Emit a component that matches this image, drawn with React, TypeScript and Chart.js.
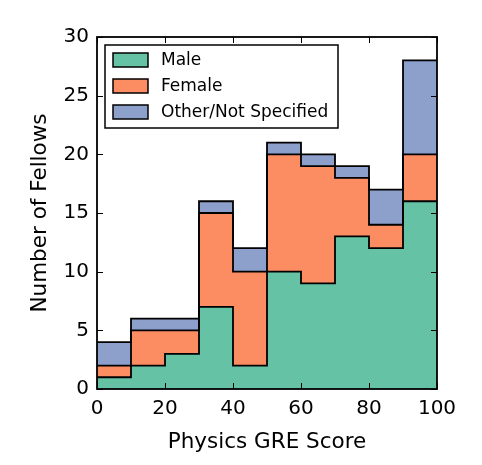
import React, { useEffect, useRef } from "react";
import { Chart, registerables } from "chart.js";

Chart.register(...registerables);

const binStarts = [0, 10, 20, 30, 40, 50, 60, 70, 80, 90];
const binEnd = 100;
const male = [1, 2, 3, 7, 2, 10, 9, 13, 12, 16];
const female = [1, 3, 2, 8, 8, 10, 10, 5, 2, 4];
const other = [2, 1, 1, 1, 2, 1, 1, 1, 3, 8];
const seriesNames = ["Male", "Female", "Other/Not Specified"];
const seriesColors = ["#66c2a5", "#fc8d62", "#8da0cb"];
const xTicks = [0, 20, 40, 60, 80, 100];
const yTicks = [0, 5, 10, 15, 20, 25, 30];

const FONT = "'DejaVu Sans', sans-serif";

function cumulative(layers: number[][]): number[][] {
  const out: number[][] = [];
  let acc = binStarts.map(() => 0);
  for (const l of layers) {
    acc = acc.map((v, i) => v + l[i]);
    out.push(acc.slice());
  }
  return out;
}

function stepPoints(vals: number[]) {
  const pts = [{ x: binStarts[0], y: vals[0] }];
  binStarts.slice(1).forEach((x, i) => pts.push({ x, y: vals[i + 1] }));
  pts.push({ x: binEnd, y: vals[vals.length - 1] });
  return pts;
}

const frame = {
  id: "frame",
  afterDatasetsDraw(chart: any) {
    const { ctx, chartArea: a, scales } = chart;
    ctx.save();
    ctx.strokeStyle = "#000";
    ctx.lineWidth = 1;
    const len = 6;
    ctx.beginPath();
    for (const v of xTicks) {
      const px = Math.round(scales.x.getPixelForValue(v)) + 0.5;
      ctx.moveTo(px, a.bottom);
      ctx.lineTo(px, a.bottom - len);
      ctx.moveTo(px, a.top);
      ctx.lineTo(px, a.top + len);
    }
    for (const v of yTicks) {
      const py = Math.round(scales.y.getPixelForValue(v)) + 0.5;
      ctx.moveTo(a.left, py);
      ctx.lineTo(a.left + len, py);
      ctx.moveTo(a.right, py);
      ctx.lineTo(a.right - len, py);
    }
    ctx.stroke();
    ctx.lineWidth = 1.8;
    ctx.strokeRect(a.left, a.top, a.right - a.left, a.bottom - a.top);
    ctx.restore();
  },
  afterDraw(chart: any) {
    const { ctx, chartArea: a } = chart;
    ctx.save();
    const bx = a.left + 8;
    const by = a.top + 8;
    const bw = 233;
    const bh = 83;
    ctx.fillStyle = "#fff";
    ctx.fillRect(bx, by, bw, bh);
    ctx.strokeStyle = "#000";
    ctx.lineWidth = 1.5;
    ctx.strokeRect(bx, by, bw, bh);
    ctx.font = `17px ${FONT}`;
    ctx.textBaseline = "middle";
    ctx.textAlign = "left";
    seriesNames.forEach((name, i) => {
      const cy = by + 15 + i * 26;
      ctx.fillStyle = seriesColors[i];
      ctx.fillRect(bx + 8, cy - 7, 35, 14);
      ctx.strokeStyle = "#000";
      ctx.lineWidth = 1.5;
      ctx.strokeRect(bx + 8, cy - 7, 35, 14);
      ctx.fillStyle = "#000";
      ctx.fillText(name, bx + 56, cy + 1);
    });
    ctx.restore();
  },
};

export default function App() {
  const ref = useRef<HTMLCanvasElement | null>(null);
  useEffect(() => {
    if (!ref.current) return;
    const cum = cumulative([male, female, other]);
    const chart = new Chart(ref.current, {
      type: "line",
      data: {
        datasets: cum.map((vals, i) => ({
          label: seriesNames[i],
          data: stepPoints(vals),
          stepped: "before" as const,
          borderColor: "#000",
          borderWidth: 1.8,
          backgroundColor: seriesColors[i],
          fill: i === 0 ? "origin" : "-1",
          pointRadius: 0,
          pointHoverRadius: 0,
          tension: 0,
        })),
      },
      options: {
        responsive: false,
        animation: false,
        events: [],
        layout: { padding: { top: 37, right: 45, left: 0, bottom: 0 } },
        plugins: {
          legend: { display: false },
          tooltip: { enabled: false },
          filler: { drawTime: "beforeDatasetsDraw" },
        } as any,
        scales: {
          x: {
            type: "linear",
            min: 0,
            max: 100,
            afterBuildTicks: (s: any) => {
              s.ticks = xTicks.map((v) => ({ value: v }));
            },
            afterFit: (s: any) => {
              s.height = 76;
            },
            grid: { display: false, drawTicks: false },
            border: { display: false },
            ticks: {
              color: "#000",
              font: { family: FONT, size: 20 },
              padding: 8,
              maxRotation: 0,
            },
            title: {
              display: true,
              text: "Physics GRE Score",
              color: "#000",
              font: { family: FONT, size: 21.5 },
              padding: { top: 4, bottom: 10 },
            },
          },
          y: {
            type: "linear",
            min: 0,
            max: 30,
            afterBuildTicks: (s: any) => {
              s.ticks = yTicks.map((v) => ({ value: v }));
            },
            afterFit: (s: any) => {
              s.width = 97;
            },
            grid: { display: false, drawTicks: false },
            border: { display: false },
            ticks: {
              color: "#000",
              font: { family: FONT, size: 20 },
              padding: 8,
            },
            title: {
              display: true,
              text: "Number of Fellows",
              color: "#000",
              font: { family: FONT, size: 21.5 },
              padding: { bottom: 0, top: 28 },
            },
          },
        },
      },
      plugins: [frame],
    });
    return () => chart.destroy();
  }, []);
  return (
    <div style={{ position: "fixed", left: 0, top: 0, width: 482, height: 465, background: "#fff" }}>
      <canvas ref={ref} width={482} height={465} />
    </div>
  );
}
